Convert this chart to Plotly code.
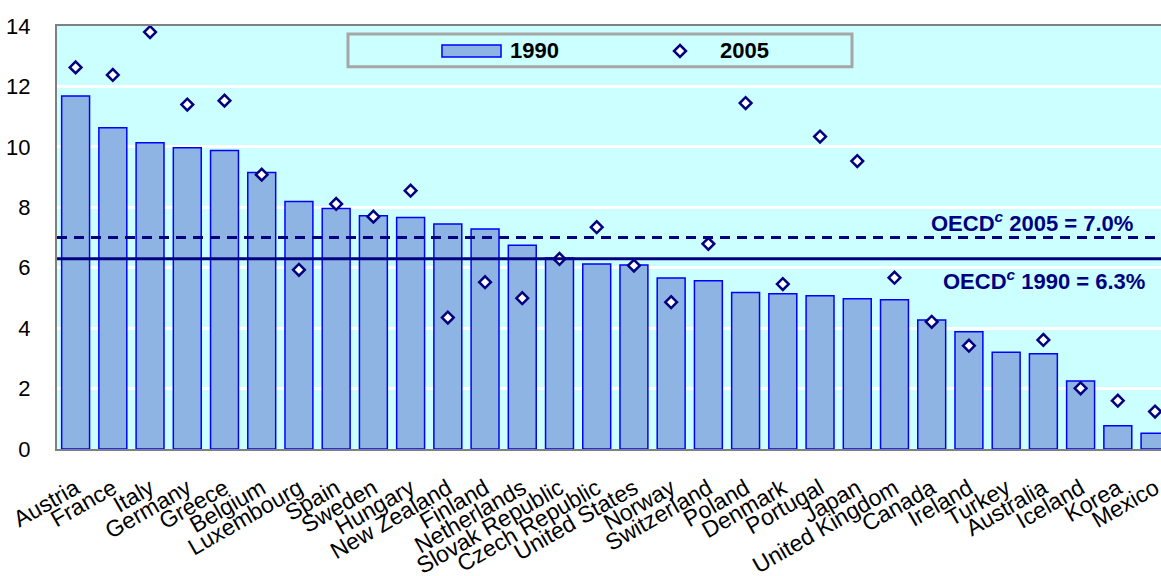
import plotly.graph_objects as go

countries = ["Austria", "France", "Italy", "Germany", "Greece", "Belgium", "Luxembourg",
             "Spain", "Sweden", "Hungary", "New Zealand", "Finland", "Netherlands",
             "Slovak Republic", "Czech Republic", "United States", "Norway", "Switzerland",
             "Poland", "Denmark", "Portugal", "Japan", "United Kingdom", "Canada", "Ireland",
             "Turkey", "Australia", "Iceland", "Korea", "Mexico"]
v1990 = [11.68, 10.63, 10.14, 9.97, 9.88, 9.15, 8.19, 7.96, 7.72, 7.66, 7.45, 7.28, 6.74,
         6.32, 6.12, 6.09, 5.66, 5.57, 5.18, 5.14, 5.07, 4.97, 4.94, 4.27, 3.88, 3.20,
         3.15, 2.25, 0.77, 0.52]
v2005 = [12.63, 12.38, 13.80, 11.40, 11.53, 9.08, 5.93, 8.11, 7.69, 8.55, 4.35, 5.52, 4.99,
         6.29, 7.34, 6.07, 4.86, 6.79, 11.45, 5.46, 10.34, 9.53, 5.67, 4.21, 3.42, None,
         3.61, 2.01, 1.60, 1.24]
oecd_1990 = 6.3
oecd_2005 = 7.0
y_ticks = [0, 2, 4, 6, 8, 10, 12, 14]

NAVY = "#000080"
BAR_FILL = "#8EB4E3"
BAR_LINE = "#0000FF"
BG = "#CCFFFF"
FONT = "Arial, Liberation Sans, sans-serif"

fig = go.Figure()
fig.add_trace(go.Bar(x=countries, y=v1990, name="1990",
                     marker=dict(color=BAR_FILL, line=dict(color=BAR_LINE, width=1.5)),
                     showlegend=False))
fig.add_trace(go.Scatter(x=countries, y=v2005, name="2005", mode="markers",
                         marker=dict(symbol="diamond", size=9, color="white",
                                     line=dict(color=NAVY, width=2.5)),
                         showlegend=False))

# OECD average lines
fig.add_shape(type="line", xref="paper", x0=0, x1=1, yref="y", y0=oecd_2005, y1=oecd_2005,
              line=dict(color=NAVY, width=3, dash="10px,7px"))
fig.add_shape(type="line", xref="paper", x0=0, x1=1, yref="y", y0=oecd_1990, y1=oecd_1990,
              line=dict(color=NAVY, width=3))

fig.add_annotation(xref="paper", x=0.9764, xanchor="right", yref="y", y=oecd_2005 + 0.52,
                   yanchor="middle", showarrow=False,
                   text="<b>OECD<sup><i>c</i></sup> 2005 = 7.0%</b>",
                   font=dict(family=FONT, size=22, color=NAVY))
fig.add_annotation(xref="paper", x=0.9873, xanchor="right", yref="y", y=oecd_1990 - 0.71,
                   yanchor="middle", showarrow=False,
                   text="<b>OECD<sup><i>c</i></sup> 1990 = 6.3%</b>",
                   font=dict(family=FONT, size=22, color=NAVY))

# Legend (drawn manually to match the boxed layout)
fig.add_shape(type="rect", xref="paper", yref="paper", x0=0.2636, x1=0.7201, y0=0.9038, y1=0.9811,
              line=dict(color="#A6A6A6", width=3), fillcolor=BG, layer="above")
fig.add_shape(type="rect", xref="paper", yref="paper", x0=0.3487, x1=0.4022, y0=0.9267, y1=0.9551,
              line=dict(color=BAR_LINE, width=1.5), fillcolor=BAR_FILL, layer="above")
fig.add_shape(type="path", xref="paper", yref="paper", xsizemode="pixel", ysizemode="pixel",
              xanchor=0.5643, yanchor=0.9409, path="M0,6 L6,0 L0,-6 L-6,0 Z",
              line=dict(color=NAVY, width=2.5), fillcolor="white", layer="above")
fig.add_annotation(xref="paper", yref="paper", x=0.4085, y=0.9409, xanchor="left", yanchor="middle",
                   showarrow=False, text="<b>1990</b>", font=dict(family=FONT, size=22, color="black"))
fig.add_annotation(xref="paper", yref="paper", x=0.5987, y=0.9409, xanchor="left", yanchor="middle",
                   showarrow=False, text="<b>2005</b>", font=dict(family=FONT, size=22, color="black"))

fig.update_layout(
    width=1161, height=576,
    margin=dict(l=57, r=0, t=26, b=127),
    paper_bgcolor="white", plot_bgcolor=BG,
    bargap=0.25,
    font=dict(family=FONT, size=20, color="black"),
    xaxis=dict(type="category", range=[-0.5, 29.16], showline=True, mirror=True,
               linecolor="#808080", linewidth=2, showgrid=False, tickangle=-30,
               tickfont=dict(size=23), ticks="", automargin=False, ticklabelstandoff=15),
    yaxis=dict(range=[0, 14], tickvals=y_ticks, showline=True, linecolor="#808080", linewidth=2,
               gridcolor="white", gridwidth=3, zeroline=False, ticks="",
               ticklabelstandoff=20, tickfont=dict(size=22), automargin=False),
)

fig.write_html("out.html", config={"displayModeBar": False},
               post_script="document.body.style.margin='0px';document.body.style.overflow='hidden';")
